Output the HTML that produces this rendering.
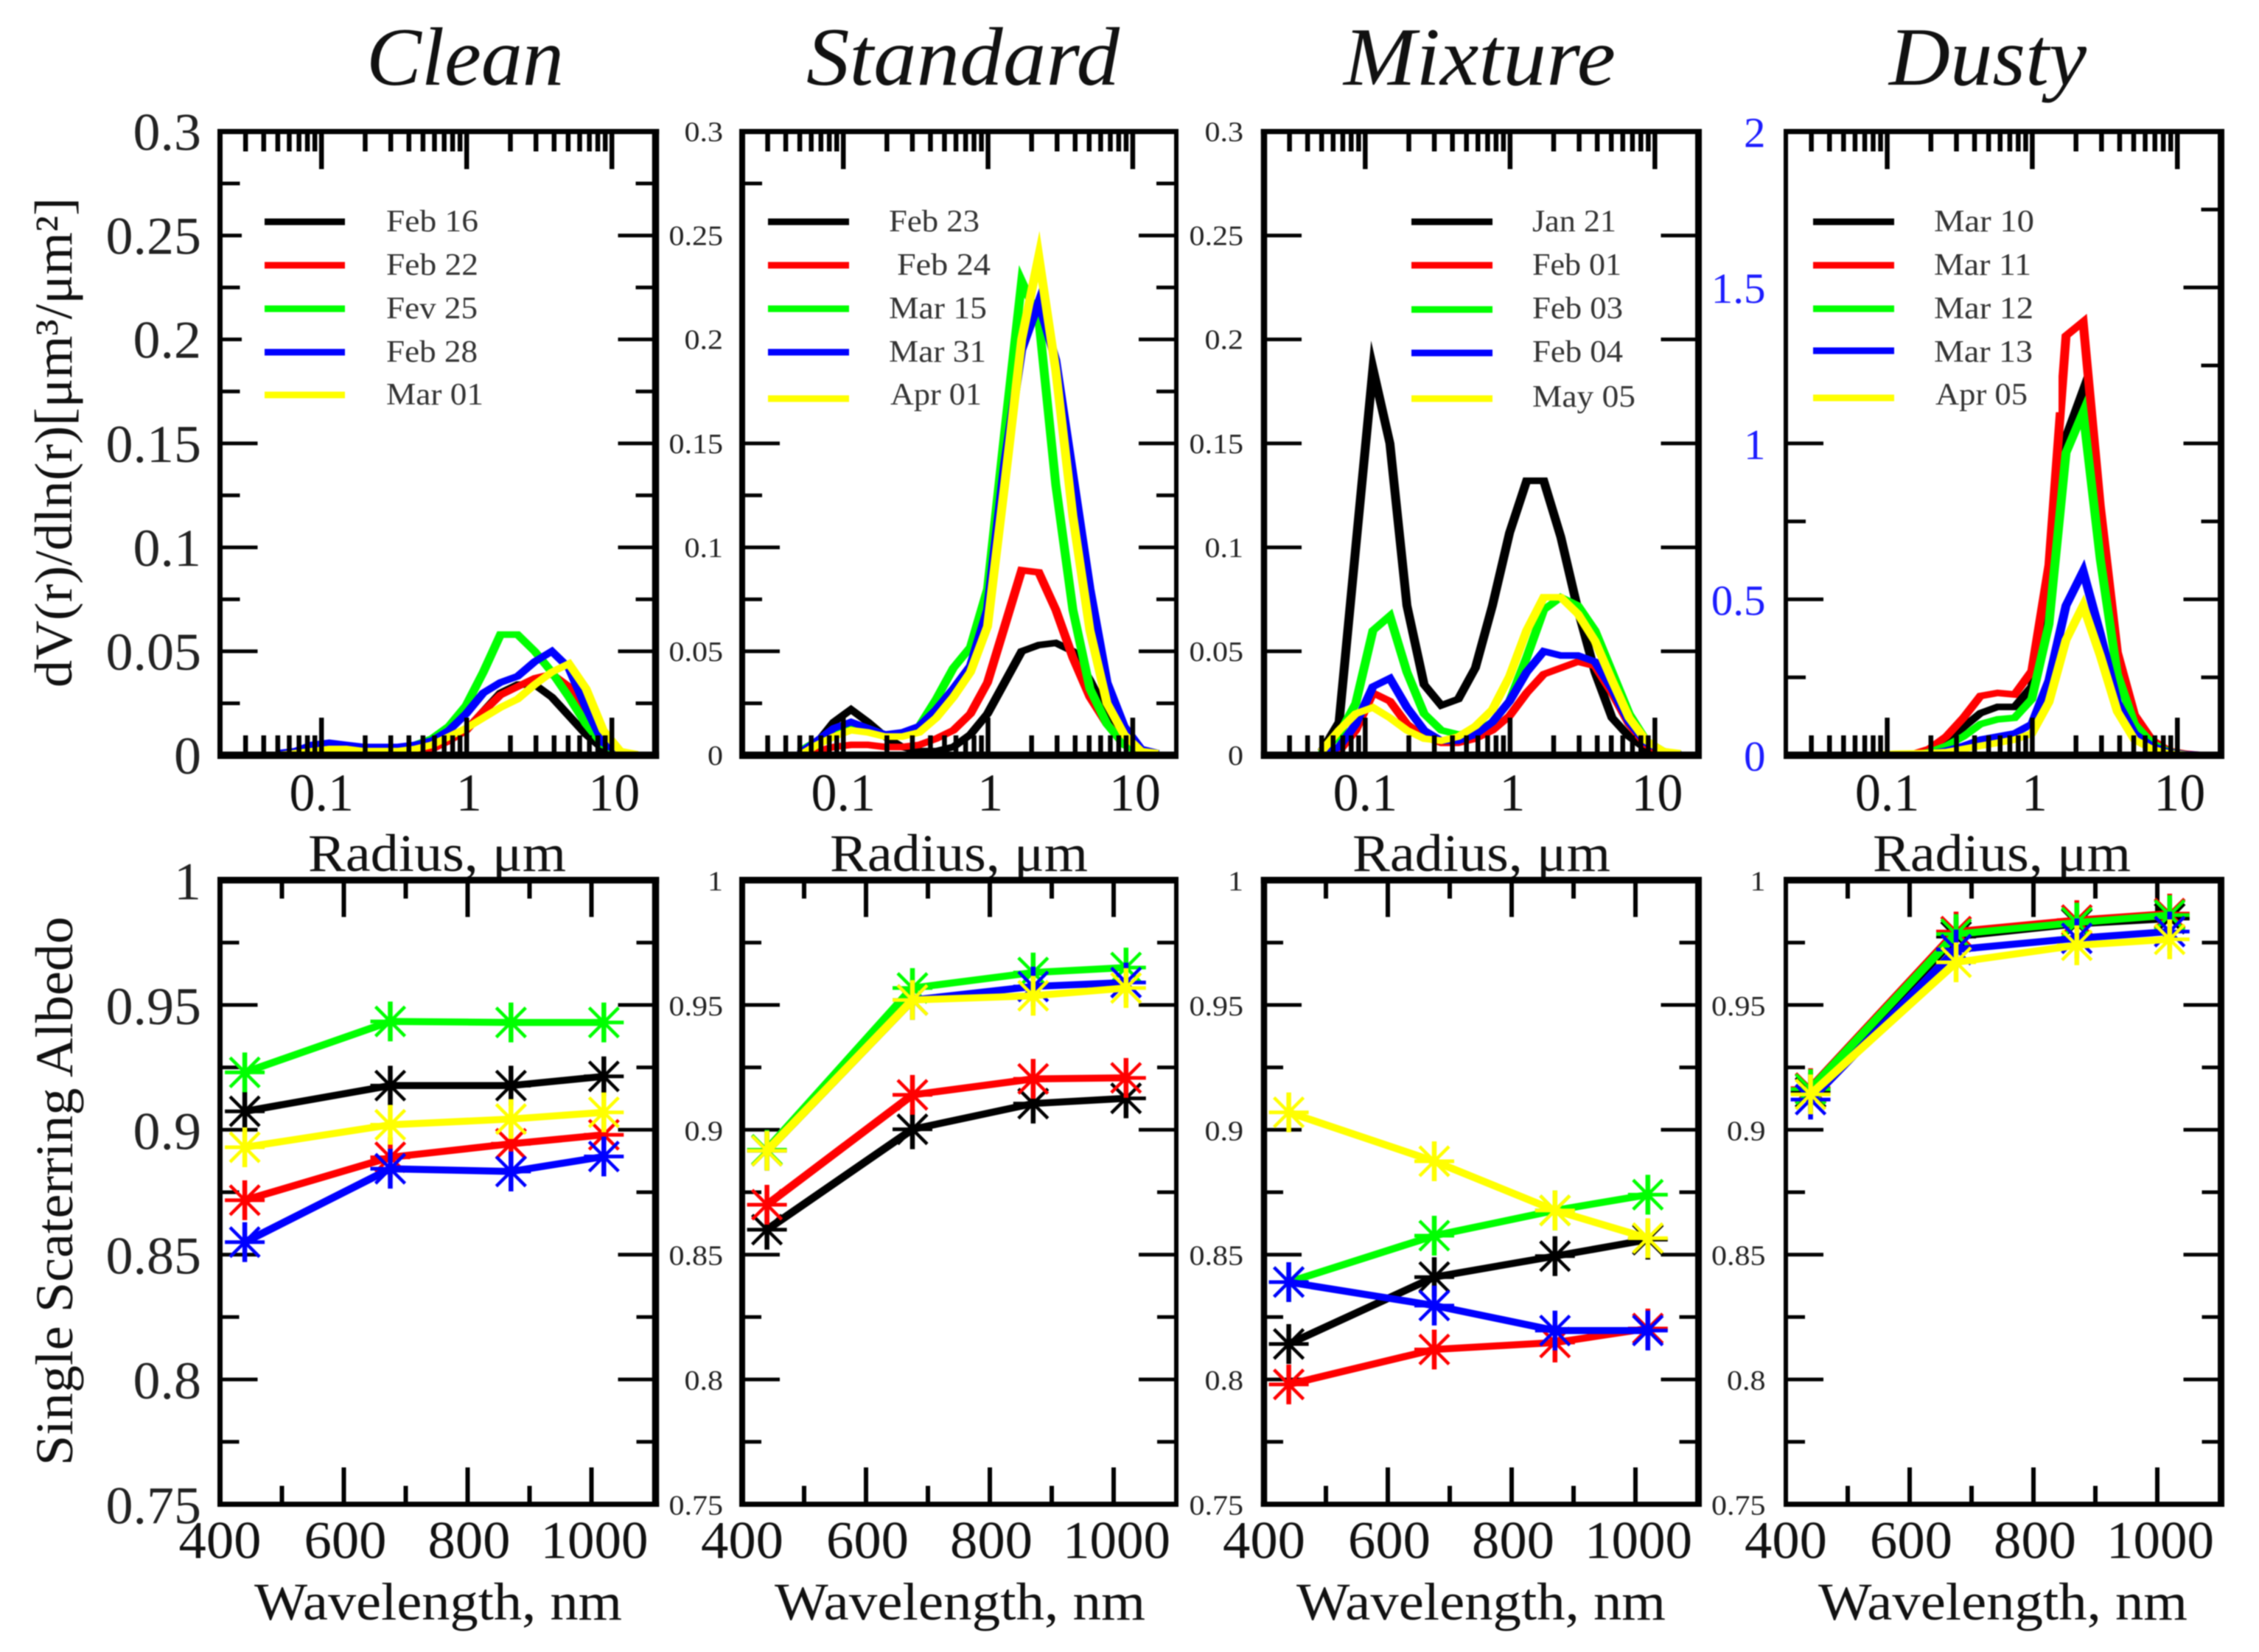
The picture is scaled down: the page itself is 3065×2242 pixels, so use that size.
<!DOCTYPE html>
<html lang="en">
<head>
<meta charset="utf-8">
<title>Aerosol size distribution and single scattering albedo</title>
<style>
  html, body { margin: 0; padding: 0; background: #fff; }
  body { width: 3065px; height: 2242px; overflow: hidden; }
  svg { display: block; filter: blur(0.7px); }
  text { font-family: "Liberation Serif", "DejaVu Serif", serif; fill: #111; }
</style>
</head>
<body>
<svg id="figure" xmlns="http://www.w3.org/2000/svg" width="3065" height="2242" viewBox="0 0 3065 2242">
  <rect x="0" y="0" width="3065" height="2242" fill="#fff"/>
  <text x="497" y="115" font-size="112" font-style="italic" textLength="268" lengthAdjust="spacingAndGlyphs">Clean</text>
  <text x="1094" y="115" font-size="112" font-style="italic" textLength="425" lengthAdjust="spacingAndGlyphs">Standard</text>
  <text x="1823" y="115" font-size="112" font-style="italic" textLength="369" lengthAdjust="spacingAndGlyphs">Mixture</text>
  <text x="2563" y="115" font-size="112" font-style="italic" textLength="268" lengthAdjust="spacingAndGlyphs">Dusty</text>

  <text transform="translate(97,933) rotate(-90)" font-size="72" textLength="665" lengthAdjust="spacingAndGlyphs">dV(r)/dln(r)[μm³/μm²]</text>
  <text transform="translate(98,1989) rotate(-90)" font-size="72" textLength="745" lengthAdjust="spacingAndGlyphs">Single Scaterring Albedo</text>

  <text x="418" y="1182" font-size="72" textLength="350" lengthAdjust="spacingAndGlyphs">Radius, μm</text>
  <text x="1126" y="1182" font-size="72" textLength="350" lengthAdjust="spacingAndGlyphs">Radius, μm</text>
  <text x="1835" y="1182" font-size="72" textLength="350" lengthAdjust="spacingAndGlyphs">Radius, μm</text>
  <text x="2541" y="1182" font-size="72" textLength="350" lengthAdjust="spacingAndGlyphs">Radius, μm</text>

  <text x="345" y="2198" font-size="72" textLength="499" lengthAdjust="spacingAndGlyphs">Wavelength, nm</text>
  <text x="1051" y="2198" font-size="72" textLength="503" lengthAdjust="spacingAndGlyphs">Wavelength, nm</text>
  <text x="1759" y="2198" font-size="72" textLength="501" lengthAdjust="spacingAndGlyphs">Wavelength, nm</text>
  <text x="2467" y="2198" font-size="72" textLength="501" lengthAdjust="spacingAndGlyphs">Wavelength, nm</text>
</svg>

<script>
// ---------- Chart data ----------
const radiusBins = [0.05,0.066,0.086,0.113,0.148,0.194,0.255,0.335,0.439,0.576,0.756,0.992,1.302,1.708,2.241,2.94,3.857,5.06,6.64,8.71,11.43,15];
const wavelengths = [440,675,870,1020];

const radiusTickLabels = ['0.1','1','10'];
const radiusMajorTicks = [0.1,1,10];
const radiusMinorTicks = [0.03,0.04,0.05,0.06,0.07,0.08,0.09,0.2,0.3,0.4,0.5,0.6,0.7,0.8,0.9,2,3,4,5,6,7,8,9];
const sizeTicks = [0,0.05,0.1,0.15,0.2,0.25,0.3];
const sizeTickLabels = ['0','0.05','0.1','0.15','0.2','0.25','0.3'];
const sizeMinorTicks = [0.025,0.075,0.125,0.175,0.225,0.275];
const dustyTicks = [0,0.5,1,1.5,2];
const dustyTickLabels = ['0','0.5','1','1.5','2'];
const dustyMinorTicks = [0.25,0.75,1.25,1.75];
const wavelengthTicks = [400,600,800,1000];
const wavelengthTickLabels = ['400','600','800','1000'];
const wavelengthMinorTicks = [500,700,900];
const albedoTicks = [0.75,0.8,0.85,0.9,0.95,1];
const albedoTickLabels = ['0.75','0.8','0.85','0.9','0.95','1'];
const albedoMinorTicks = [0.775,0.825,0.875,0.925,0.975];

const cleanDates = ['Feb 16','Feb 22','Fev 25','Feb 28','Mar 01'];
const standardDates = ['Feb 23','Feb 24','Mar 15','Mar 31','Apr 01'];
const mixtureDates = ['Jan 21','Feb 01','Feb 03','Feb 04','May 05'];
const dustyDates = ['Mar 10','Mar 11','Mar 12','Mar 13','Apr 05'];

const cleanSizeBlack = [0,0,0,0,0,0,0,0,0.001,0.003,0.007,0.012,0.021,0.03,0.034,0.034,0.028,0.019,0.01,0.003,0.0005,0];
const cleanSizeRed = [0,0,0,0,0,0,0,0,0.001,0.003,0.007,0.012,0.021,0.029,0.033,0.037,0.039,0.033,0.018,0.005,0.001,0];
const cleanSizeGreen = [0,0,0,0,0,0,0.001,0.003,0.005,0.008,0.014,0.024,0.04,0.058,0.058,0.05,0.04,0.028,0.015,0.005,0.001,0];
const cleanSizeBlue = [0.001,0.002,0.005,0.006,0.005,0.004,0.004,0.004,0.005,0.007,0.012,0.02,0.03,0.035,0.038,0.045,0.05,0.042,0.023,0.006,0.001,0.0005];
const cleanSizeYellow = [0,0.001,0.002,0.003,0.003,0.002,0.002,0.002,0.003,0.005,0.009,0.013,0.018,0.023,0.027,0.034,0.04,0.044,0.032,0.012,0.002,0.0005];

const standardSizeBlack = [0.001,0.006,0.016,0.022,0.016,0.009,0.004,0.002,0.002,0.004,0.01,0.02,0.035,0.05,0.053,0.054,0.05,0.036,0.02,0.008,0.002,0.0005];
const standardSizeRed = [0,0.002,0.004,0.005,0.005,0.004,0.004,0.005,0.008,0.012,0.02,0.035,0.062,0.089,0.088,0.07,0.047,0.028,0.015,0.006,0.002,0.0005];
const standardSizeGreen = [0.002,0.007,0.012,0.014,0.013,0.01,0.01,0.014,0.027,0.042,0.052,0.08,0.155,0.228,0.21,0.13,0.07,0.032,0.015,0.005,0.001,0];
const standardSizeBlue = [0.001,0.007,0.013,0.016,0.013,0.01,0.011,0.014,0.022,0.032,0.043,0.07,0.14,0.195,0.218,0.19,0.135,0.08,0.035,0.014,0.003,0.001];
const standardSizeYellow = [0,0.005,0.009,0.012,0.011,0.009,0.009,0.011,0.018,0.028,0.04,0.062,0.13,0.2,0.24,0.185,0.115,0.06,0.025,0.01,0.002,0.001];

const mixtureSizeBlack = [0.002,0.016,0.1,0.186,0.15,0.072,0.034,0.024,0.027,0.042,0.072,0.107,0.132,0.132,0.105,0.07,0.04,0.018,0.009,0.003,0.001,0];
const mixtureSizeRed = [0,0.002,0.012,0.03,0.026,0.015,0.009,0.006,0.006,0.008,0.012,0.019,0.03,0.039,0.042,0.045,0.043,0.03,0.015,0.005,0.001,0];
const mixtureSizeGreen = [0.001,0.01,0.025,0.06,0.067,0.04,0.02,0.012,0.01,0.011,0.016,0.026,0.047,0.07,0.076,0.072,0.06,0.04,0.02,0.007,0.002,0.0005];
const mixtureSizeBlue = [0,0.004,0.015,0.033,0.037,0.023,0.012,0.007,0.007,0.01,0.016,0.026,0.04,0.05,0.048,0.048,0.045,0.032,0.016,0.006,0.002,0.0005];
const mixtureSizeYellow = [0.002,0.012,0.02,0.023,0.018,0.012,0.008,0.007,0.009,0.014,0.022,0.038,0.06,0.076,0.076,0.068,0.055,0.036,0.018,0.007,0.002,0.001];

const dustySizeBlack = [0,0,0,0,0,0.003,0.04,0.09,0.135,0.155,0.155,0.22,0.5,1.02,1.17,0.7,0.28,0.11,0.04,0.012,0.003,0];
const dustySizeRed = [0,0,0,0,0.003,0.02,0.06,0.12,0.19,0.2,0.195,0.27,0.61,1.345,1.39,0.8,0.33,0.13,0.05,0.015,0.005,0];
const dustySizeGreen = [0,0,0,0,0,0.01,0.03,0.06,0.1,0.115,0.12,0.18,0.42,0.97,1.1,0.63,0.26,0.1,0.04,0.012,0.003,0];
const dustySizeBlue = [0,0,0,0,0,0.005,0.015,0.03,0.05,0.06,0.07,0.1,0.24,0.48,0.59,0.39,0.17,0.07,0.03,0.01,0.003,0.001];
const dustySizeYellow = [0,0,0.002,0.005,0.006,0.007,0.01,0.02,0.03,0.04,0.05,0.07,0.17,0.37,0.48,0.32,0.14,0.05,0.02,0.006,0.002,0];

const cleanAlbedoBlack = [0.9074,0.9177,0.9177,0.9214];
const cleanAlbedoRed = [0.8718,0.889,0.8944,0.898];
const cleanAlbedoGreen = [0.923,0.9434,0.943,0.943];
const cleanAlbedoBlue = [0.855,0.8844,0.8833,0.8893];
const cleanAlbedoYellow = [0.893,0.902,0.9043,0.907];

const standardAlbedoBlack = [0.86,0.9002,0.9105,0.9126];
const standardAlbedoRed = [0.87,0.914,0.9204,0.9208];
const standardAlbedoGreen = [0.892,0.9568,0.963,0.965];
const standardAlbedoBlue = [0.8916,0.952,0.9574,0.959];
const standardAlbedoYellow = [0.8916,0.952,0.9537,0.9568];

const mixtureAlbedoBlack = [0.8142,0.841,0.8494,0.856];
const mixtureAlbedoRed = [0.798,0.812,0.8148,0.8204];
const mixtureAlbedoGreen = [0.839,0.8576,0.8677,0.874];
const mixtureAlbedoBlue = [0.839,0.8296,0.8196,0.8196];
const mixtureAlbedoYellow = [0.907,0.8874,0.8677,0.8566];

const dustyAlbedoBlack = [0.915,0.9774,0.9825,0.9846];
const dustyAlbedoRed = [0.9167,0.9794,0.984,0.9866];
const dustyAlbedoGreen = [0.9163,0.9784,0.983,0.986];
const dustyAlbedoBlue = [0.9121,0.9722,0.9767,0.9794];
const dustyAlbedoYellow = [0.9142,0.9671,0.9739,0.9763];

// ---------- Layout (not data) ----------
const seriesColors = ['#000000','#ff0000','#00ff00','#0000ff','#ffff00'];
const seriesNames = ['black','red','green','blue','yellow'];
const UP_TOP = 178.5, UP_BOTTOM = 1025, LOW_TOP = 1194.5, LOW_BOTTOM = 2041.5;
const STRETCH = 1.35; // the source figure is stretched horizontally, so its strokes are wider across x

const panels = [
  { key:'clean', left:298.5, right:889.5, leftW:7, rightW:9.5, labelRight:273, labelSize:72, labelEm:74, labelOffset:25, lowOffset:26,
    dates:cleanDates, size:[cleanSizeBlack,cleanSizeRed,cleanSizeGreen,cleanSizeBlue,cleanSizeYellow],
    albedo:[cleanAlbedoBlack,cleanAlbedoRed,cleanAlbedoGreen,cleanAlbedoBlue,cleanAlbedoYellow],
    legend:{x1:359,x2:468,tx:524,rows:[301,360,419,478,536],textRows:[301,360,419,478,536],widths:[125,125,124,124,132],dx:[0,0,0,0,0]},
    box:{x:328,w:400,top:0.265,bottom:0.16} },
  { key:'standard', left:1007, right:1596, leftW:8, rightW:6, labelRight:981, labelSize:38, labelEm:42, labelOffset:13, lowOffset:14,
    dates:standardDates, size:[standardSizeBlack,standardSizeRed,standardSizeGreen,standardSizeBlue,standardSizeYellow],
    albedo:[standardAlbedoBlack,standardAlbedoRed,standardAlbedoGreen,standardAlbedoBlue,standardAlbedoYellow],
    legend:{x1:1042,x2:1152,tx:1206,rows:[301,360,419,478,541],textRows:[301,360,419,478,536],widths:[123,127,133,132,124],dx:[0,11,0,0,2]},
    box:{x:1007,w:350,top:0.265,bottom:0.158} },
  { key:'mixture', left:1715, right:2304.5, leftW:8.5, rightW:9, labelRight:1687, labelSize:38, labelEm:42, labelOffset:13, lowOffset:14,
    dates:mixtureDates, size:[mixtureSizeBlack,mixtureSizeRed,mixtureSizeGreen,mixtureSizeBlue,mixtureSizeYellow],
    albedo:[mixtureAlbedoBlack,mixtureAlbedoRed,mixtureAlbedoGreen,mixtureAlbedoBlue,mixtureAlbedoYellow],
    legend:{x1:1915,x2:2025,tx:2079,rows:[301,360,420,479,541],textRows:[301,360,419,478,539],widths:[114,121,123,123,140],dx:[0,0,0,0,0]},
    box:null, noSizeMinor:true },
  { key:'dusty', left:2423, right:3013.5, leftW:6, rightW:9, labelRight:2395.5, labelSize:38, labelEm:42, labelOffset:13, lowOffset:14,
    dates:dustyDates, size:[dustySizeBlack,dustySizeRed,dustySizeGreen,dustySizeBlue,dustySizeYellow],
    albedo:[dustyAlbedoBlack,dustyAlbedoRed,dustyAlbedoGreen,dustyAlbedoBlue,dustyAlbedoYellow],
    legend:{x1:2460,x2:2570,tx:2624,rows:[301,360,419,476,540],textRows:[301,360,419,478,536],widths:[136,132,135,134,125],dx:[0,0,0,0,2]},
    box:{x:2423,w:370,top:1.85,bottom:1.1}, dusty:true }
];

const NS = 'http://www.w3.org/2000/svg';
const svg = document.getElementById('figure');

function makeGroup(parent, name) {
  const el = document.createElementNS(NS, 'g');
  
  
  parent.appendChild(el);
  return el;
}
function addLine(parent, x1, y1, x2, y2, color, width, name, cap) {
  const el = document.createElementNS(NS, 'line');
  el.setAttribute('x1', x1);
  el.setAttribute('y1', y1);
  el.setAttribute('x2', x2);
  el.setAttribute('y2', y2);
  el.setAttribute('stroke', color);
  el.setAttribute('stroke-width', width);
  if (cap) el.setAttribute('stroke-linecap', cap);
  
  
  parent.appendChild(el);
  return el;
}
function addPolyline(parent, points, color, width, name) {
  const el = document.createElementNS(NS, 'polyline');
  el.setAttribute('points', points.map(p => (p[0] / STRETCH).toFixed(2) + ',' + p[1].toFixed(1)).join(' '));
  el.setAttribute('transform', 'scale(' + STRETCH + ',1)');
  el.setAttribute('fill', 'none');
  el.setAttribute('stroke', color);
  el.setAttribute('stroke-width', width);
  el.setAttribute('stroke-linejoin', 'miter');
  el.setAttribute('stroke-miterlimit', '12');
  
  
  parent.appendChild(el);
  return el;
}
function addText(parent, str, x, y, size, width, color, name) {
  const el = document.createElementNS(NS, 'text');
  el.setAttribute('x', x);
  el.setAttribute('y', y);
  el.setAttribute('font-size', size);
  el.setAttribute('textLength', width);
  el.setAttribute('lengthAdjust', 'spacingAndGlyphs');
  if (color) el.style.fill = color;
  el.textContent = str;
  
  
  parent.appendChild(el);
  return el;
}
function naturalEm(s) {
  let w = 0;
  for (const c of s) w += (c === '.') ? 0.25 : 0.5;
  return w;
}
function addFrame(parent, p, top, bottom, topW, bottomW) {
  const g = makeGroup(parent, 'plot-frame');
  addLine(g, p.left, top - topW/2, p.left, bottom + bottomW/2, '#000', p.leftW, 'frame-left');
  addLine(g, p.right, top - topW/2, p.right, bottom + bottomW/2, '#000', p.rightW, 'frame-right');
  addLine(g, p.left - p.leftW/2, top, p.right + p.rightW/2, top, '#000', topW, 'frame-top');
  addLine(g, p.left - p.leftW/2, bottom, p.right + p.rightW/2, bottom, '#000', bottomW, 'frame-bottom');
}

panels.forEach(function (p) {
  const width = p.right - p.left;

  // ---------- Upper panel: size distribution ----------
  const up = makeGroup(svg, 'size-distribution-' + p.key);
  const yMax = p.dusty ? 2 : 0.3;
  const sx = r => p.left + (Math.log10(r) - Math.log10(0.02)) / 3 * width;
  const sy = v => UP_BOTTOM - (v / yMax) * (UP_BOTTOM - UP_TOP);

  p.size.forEach(function (series, i) {
    const pts = series.map((v, j) => [sx(radiusBins[j]), sy(v)]);
    addPolyline(up, pts, seriesColors[i], 9, 'size-curve-' + seriesNames[i]);
  });

  const upTicks = makeGroup(up, 'size-axis-ticks');
  radiusMajorTicks.forEach(function (r) {
    addLine(upTicks, sx(r), UP_TOP, sx(r), UP_TOP + 51, '#000', 6.5, 'x-tick-top-major');
    addLine(upTicks, sx(r), UP_BOTTOM, sx(r), UP_BOTTOM - 51, '#000', 6.5, 'x-tick-bottom-major');
  });
  radiusMinorTicks.forEach(function (r) {
    addLine(upTicks, sx(r), UP_TOP, sx(r), UP_TOP + 27, '#000', 6.5, 'x-tick-top-minor');
    addLine(upTicks, sx(r), UP_BOTTOM, sx(r), UP_BOTTOM - 27, '#000', 6.5, 'x-tick-bottom-minor');
  });
  const majorY = p.dusty ? dustyTicks : sizeTicks;
  const majorLabels = p.dusty ? dustyTickLabels : sizeTickLabels;
  const minorY = p.dusty ? dustyMinorTicks : (p.noSizeMinor ? [] : sizeMinorTicks);
  const yTickLen = 51, yMinorLen = 27;
  majorY.forEach(function (v, i) {
    if (v > 0 && v < yMax) {
      addLine(upTicks, p.left, sy(v), p.left + yTickLen, sy(v), '#000', 5, 'y-tick-left-major');
      addLine(upTicks, p.right, sy(v), p.right - yTickLen, sy(v), '#000', 5, 'y-tick-right-major');
    }
    const s = majorLabels[i];
    if (p.dusty) {
      const w = naturalEm(s) * 59;
      addText(up, s, p.labelRight - w, sy(v) + 21, 58, w, '#1c1cff', 'y-tick-label-right-axis');
    } else {
      const w = naturalEm(s) * p.labelEm;
      addText(up, s, p.labelRight - w, sy(v) + p.labelOffset, p.labelSize, w, '#222', 'y-tick-label');
    }
  });
  minorY.forEach(function (v) {
    addLine(upTicks, p.left, sy(v), p.left + yMinorLen, sy(v), '#000', 5, 'y-tick-left-minor');
    addLine(upTicks, p.right, sy(v), p.right - yMinorLen, sy(v), '#000', 5, 'y-tick-right-minor');
  });

  radiusTickLabels.forEach(function (s, i) {
    const w = naturalEm(s) * 70;
    const cx = sx(radiusMajorTicks[i]) + (i === 0 ? 0 : 3);
    addText(up, s, cx - w / 2, 1100, 72, w, '#111', 'x-tick-label-radius');
  });

  if (p.box) {
    const box = document.createElementNS(NS, 'rect');
    box.setAttribute('x', p.box.x);
    box.setAttribute('y', sy(p.box.top));
    box.setAttribute('width', p.box.w);
    box.setAttribute('height', sy(p.box.bottom) - sy(p.box.top));
    box.setAttribute('fill', '#fff');
    
    
    up.appendChild(box);
  }
  const legend = makeGroup(up, 'legend');
  p.dates.forEach(function (d, i) {
    const y = p.legend.rows[i];
    addLine(legend, p.legend.x1, y, p.legend.x2, y, seriesColors[i], 9, 'legend-line-' + seriesNames[i]);
    addText(legend, d, p.legend.tx + p.legend.dx[i], p.legend.textRows[i] + 13, 42, p.legend.widths[i], '#333', 'legend-label');
  });
  addFrame(up, p, UP_TOP, UP_BOTTOM, 7, 10);

  // ---------- Lower panel: single scattering albedo ----------
  const low = makeGroup(svg, 'albedo-' + p.key);
  const lx = w => p.left + (w - 400) * 0.84;
  const ly = v => LOW_BOTTOM - (v - 0.75) / 0.25 * (LOW_BOTTOM - LOW_TOP);

  const lowTicks = makeGroup(low, 'albedo-axis-ticks');
  wavelengthTicks.forEach(function (w, i) {
    if (w > 400) {
      addLine(lowTicks, lx(w), LOW_TOP, lx(w), LOW_TOP + 50, '#000', 6, 'x-tick-top-major');
      addLine(lowTicks, lx(w), LOW_BOTTOM, lx(w), LOW_BOTTOM - 50, '#000', 6, 'x-tick-bottom-major');
    }
    const s = wavelengthTickLabels[i];
    const tw = s.length === 4 ? 146 : 112;
    addText(low, s, lx(w) + (i === 0 ? 0 : i === 3 ? 4 : 2) - tw / 2, 2114.5, 72, tw, '#111', 'x-tick-label-wavelength');
  });
  wavelengthMinorTicks.forEach(function (w) {
    addLine(lowTicks, lx(w), LOW_TOP, lx(w), LOW_TOP + 25, '#000', 6, 'x-tick-top-minor');
    addLine(lowTicks, lx(w), LOW_BOTTOM, lx(w), LOW_BOTTOM - 25, '#000', 6, 'x-tick-bottom-minor');
  });
  albedoTicks.forEach(function (v, i) {
    if (v > 0.75 && v < 1) {
      addLine(lowTicks, p.left, ly(v), p.left + 51, ly(v), '#000', 5, 'y-tick-left-major');
      addLine(lowTicks, p.right, ly(v), p.right - 51, ly(v), '#000', 5, 'y-tick-right-major');
    }
    const s = albedoTickLabels[i];
    const w = naturalEm(s) * p.labelEm;
    addText(low, s, p.labelRight - w, ly(v) + p.lowOffset, p.labelSize, w, '#222', 'y-tick-label');
  });
  albedoMinorTicks.forEach(function (v) {
    addLine(lowTicks, p.left, ly(v), p.left + 26, ly(v), '#000', 5, 'y-tick-left-minor');
    addLine(lowTicks, p.right, ly(v), p.right - 26, ly(v), '#000', 5, 'y-tick-right-minor');
  });

  p.albedo.forEach(function (series, i) {
    const g = makeGroup(low, 'albedo-series-' + seriesNames[i]);
    const pts = series.map((v, j) => [lx(wavelengths[j]), ly(v)]);
    addPolyline(g, pts, seriesColors[i], 9.5, 'albedo-line-' + seriesNames[i]);
    pts.forEach(function (pt) {
      const m = makeGroup(g, 'albedo-marker-' + seriesNames[i]);
      const R = 27, D = 20;
      addLine(m, pt[0] - R, pt[1], pt[0] + R, pt[1], seriesColors[i], 5, 'marker-spoke');
      addLine(m, pt[0], pt[1] - R, pt[0], pt[1] + R, seriesColors[i], 6.5, 'marker-spoke');
      addLine(m, pt[0] - D, pt[1] - D, pt[0] + D, pt[1] + D, seriesColors[i], 4.5, 'marker-spoke');
      addLine(m, pt[0] - D, pt[1] + D, pt[0] + D, pt[1] - D, seriesColors[i], 4.5, 'marker-spoke');
    });
  });
  addFrame(low, p, LOW_TOP, LOW_BOTTOM, 9, 7);
});
</script>
</body>
</html>
